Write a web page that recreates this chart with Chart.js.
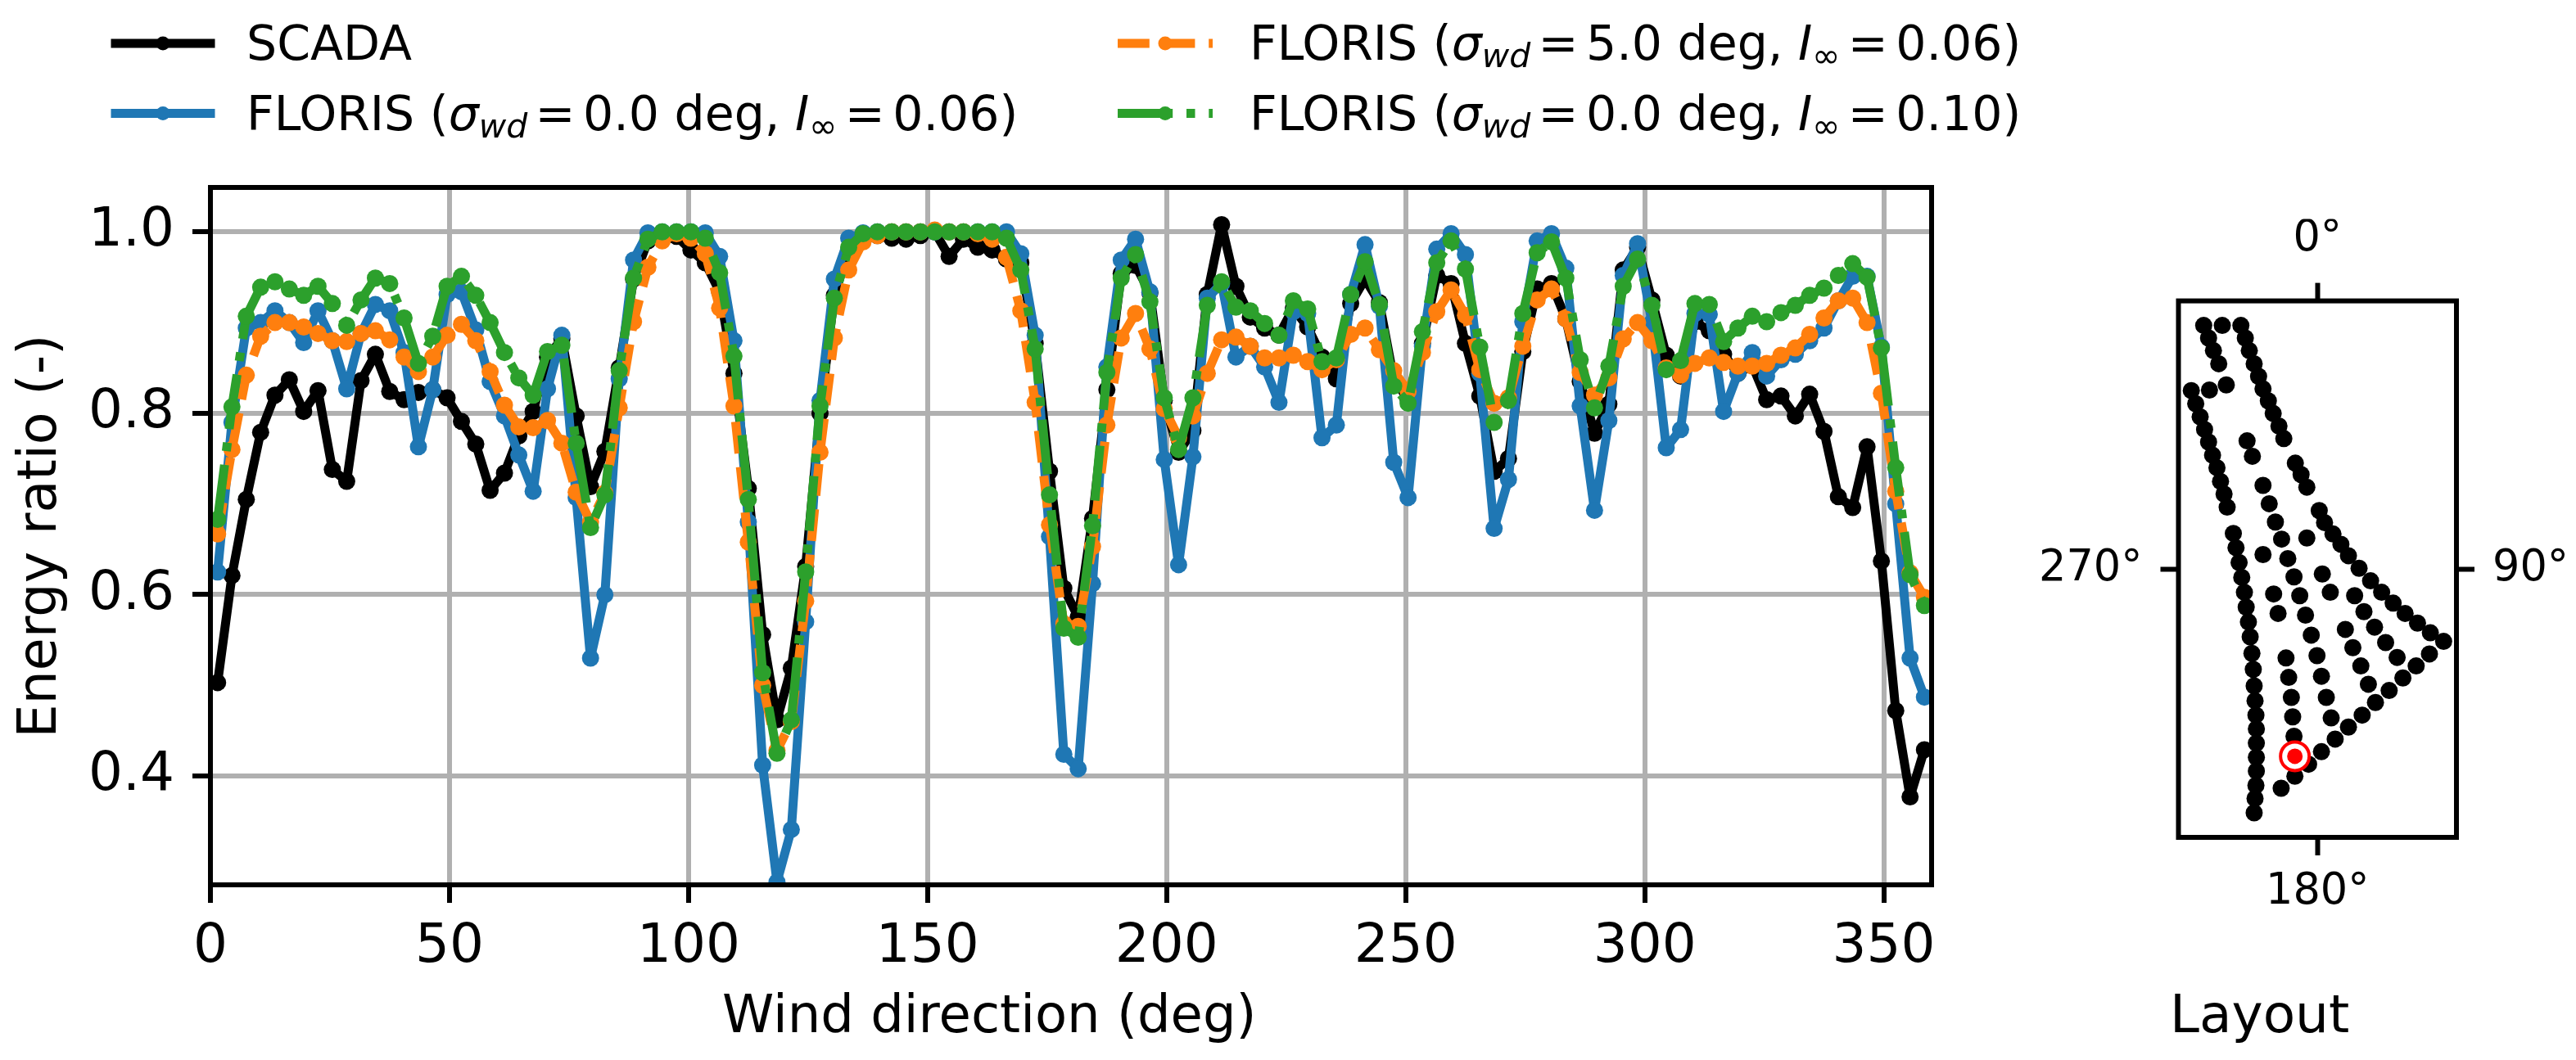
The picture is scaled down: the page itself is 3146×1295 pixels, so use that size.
<!DOCTYPE html>
<html>
<head>
<meta charset="utf-8">
<script src="https://cdn.jsdelivr.net/npm/chart.js@4"></script>
<style>
  html, body { margin: 0; padding: 0; background: #fff; }
  body { position: relative; width: 3146px; height: 1295px; overflow: hidden; font-family: "DejaVu Sans", sans-serif; color: #000; }
  canvas { position: absolute; top: 0; }
  #energyChart { left: 0; }
  #layoutChart { left: 2400px; }
  .txt { position: absolute; white-space: nowrap; line-height: 1; }
  .axis-title { font-size: 64.5px; top: 1206.5px; }
  .legend-text { font-size: 58.5px; }
  .legend-text sub { font-size: 70%; vertical-align: -0.22em; line-height: 0; }
  .legend-text .eq { margin: 0 0.16em; }
</style>
</head>
<body>
<canvas id="energyChart" width="2480" height="1295"></canvas>
<canvas id="layoutChart" width="746" height="1295"></canvas>

<div class="txt legend-text" style="left:301px; top:24px">SCADA</div>
<div class="txt legend-text" style="left:301px; top:110px">FLORIS (<i>σ<sub>wd</sub></i><span class="eq">=</span>0.0 deg, <i>I</i><sub>∞</sub><span class="eq">=</span>0.06)</div>
<div class="txt legend-text" style="left:1526px; top:24px">FLORIS (<i>σ<sub>wd</sub></i><span class="eq">=</span>5.0 deg, <i>I</i><sub>∞</sub><span class="eq">=</span>0.06)</div>
<div class="txt legend-text" style="left:1526px; top:110px">FLORIS (<i>σ<sub>wd</sub></i><span class="eq">=</span>0.0 deg, <i>I</i><sub>∞</sub><span class="eq">=</span>0.10)</div>
<div class="txt axis-title" style="left:882px; font-size:64px">Wind direction (deg)</div>
<div class="txt axis-title" style="left:2650px">Layout</div>

<script>
// Wind direction bin centres (deg)
const windDirection = [
    1.5, 4.5, 7.5, 10.5, 13.5, 16.5, 19.5, 22.5, 25.5, 28.5,
    31.5, 34.5, 37.5, 40.5, 43.5, 46.5, 49.5, 52.5, 55.5, 58.5,
    61.5, 64.5, 67.5, 70.5, 73.5, 76.5, 79.5, 82.5, 85.5, 88.5,
    91.5, 94.5, 97.5, 100.5, 103.5, 106.5, 109.5, 112.5, 115.5, 118.5,
    121.5, 124.5, 127.5, 130.5, 133.5, 136.5, 139.5, 142.5, 145.5, 148.5,
    151.5, 154.5, 157.5, 160.5, 163.5, 166.5, 169.5, 172.5, 175.5, 178.5,
    181.5, 184.5, 187.5, 190.5, 193.5, 196.5, 199.5, 202.5, 205.5, 208.5,
    211.5, 214.5, 217.5, 220.5, 223.5, 226.5, 229.5, 232.5, 235.5, 238.5,
    241.5, 244.5, 247.5, 250.5, 253.5, 256.5, 259.5, 262.5, 265.5, 268.5,
    271.5, 274.5, 277.5, 280.5, 283.5, 286.5, 289.5, 292.5, 295.5, 298.5,
    301.5, 304.5, 307.5, 310.5, 313.5, 316.5, 319.5, 322.5, 325.5, 328.5,
    331.5, 334.5, 337.5, 340.5, 343.5, 346.5, 349.5, 352.5, 355.5, 358.5
];

const scadaRatio = [
    .503, .621, .705, .779, .82, .837, .802, .825, .738, .725,
    .836, .865, .824, .815, .823, .826, .817, .791, .766, .715,
    .734, .775, .802, .862, .882, .797, .719, .758, .85, .948,
    .99, .993, .995, .98, .966, .934, .844, .717, .556, .462,
    .519, .631, .80, .93, .98, .995, .996, .993, .992, .996,
    1.0, .973, .992, .983, .98, .97, .966, .877, .736, .607,
    .575, .684, .826, .954, .963, .933, .814, .757, .781, .931,
    1.008, .94, .906, .894, .886, .916, .895, .862, .838, .921,
    .948, .922, .838, .815, .877, .952, .943, .877, .819, .736,
    .75, .868, .937, .943, .904, .835, .778, .81, .958, .983,
    .925, .864, .841, .901, .891, .865, .844, .853, .815, .819,
    .797, .821, .78, .708, .696, .763, .637, .472, .377, .429
];

const florisBase = [
    .625, .79, .894, .90, .913, .90, .878, .913, .88, .827,
    .888, .92, .913, .867, .763, .826, .931, .934, .892, .835,
    .797, .754, .714, .827, .886, .707, .53, .60, .838, .969,
    .999, 1, 1, 1, .999, .973, .88, .68, .412, .283,
    .341, .57, .814, .948, .993, .999, 1, 1, 1, 1,
    1, 1, 1, 1, 1, 1, .976, .886, .664, .424,
    .408, .612, .851, .969, .992, .934, .749, .633, .752, .927,
    .943, .862, .874, .851, .812, .912, .91, .773, .787, .931,
    .986, .918, .746, .707, .874, .981, .998, .975, .844, .673,
    .727, .901, .99, .998, .96, .808, .693, .792, .952, .987,
    .90, .762, .782, .91, .909, .802, .844, .867, .841, .859,
    .865, .88, .894, .924, .951, .951, .873, .70, .53, .487
];

const florisSigma5 = [
    .667, .76, .842, .885, .90, .90, .895, .888, .88, .879,
    .888, .891, .881, .862, .846, .862, .886, .898, .88, .846,
    .809, .785, .784, .792, .767, .713, .68, .712, .806, .901,
    .961, .99, .998, .993, .976, .916, .808, .658, .50, .428,
    .46, .593, .757, .883, .958, .989, .996, 1, 1, 1,
    1.002, 1, 1, .998, .992, .972, .913, .812, .677, .568,
    .565, .653, .787, .883, .91, .871, .805, .773, .797, .844,
    .881, .884, .874, .861, .861, .864, .857, .848, .859, .887,
    .894, .87, .847, .824, .867, .912, .936, .908, .848, .811,
    .817, .874, .925, .937, .904, .845, .82, .839, .882, .90,
    .88, .85, .842, .855, .861, .856, .852, .852, .855, .864,
    .872, .887, .905, .924, .927, .90, .822, .714, .624, .597
];

const florisTi10 = [
    .683, .807, .907, .939, .945, .937, .93, .94, .921, .897,
    .925, .949, .943, .905, .855, .885, .94, .951, .93, .90,
    .867, .839, .82, .868, .875, .767, .674, .71, .847, .949,
    .992, 1, 1, 1, .993, .955, .863, .705, .514, .425,
    .462, .625, .808, .927, .983, .998, 1, 1, 1, 1,
    1, 1, 1, 1, 1, .993, .958, .871, .71, .563,
    .553, .676, .845, .949, .975, .923, .817, .76, .817, .919,
    .945, .917, .913, .899, .886, .924, .915, .857, .861, .931,
    .967, .92, .83, .811, .89, .966, .99, .959, .873, .79,
    .814, .91, .977, .989, .949, .859, .806, .852, .94, .97,
    .919, .848, .858, .921, .92, .879, .894, .907, .901, .911,
    .919, .93, .938, .952, .965, .95, .872, .74, .622, .588
];

const xTickValues = [0, 50, 100, 150, 200, 250, 300, 350];
const yTickValues = [0.4, 0.6, 0.8, 1.0];

// Turbine positions in its own picture units (y grows downward)
const turbineX = [
    725, 736, 747, 759, 767, 809, 819, 828, 839, 849, 859, 871, 882, 895, 906,
    776, 738, 697, 707, 717, 727, 736, 745, 755, 763, 771, 778,
    792, 798, 805, 811, 817, 821, 826, 830, 834, 837, 839, 841, 843, 844, 844, 844, 844, 843, 841, 839,
    823, 835, 859, 873, 887, 901, 915, 929, 942, 955, 968, 981, 991, 1002, 1013,
    932, 945, 958, 986, 998, 1017, 1035, 1052, 1076, 1102, 1127, 1153, 1180, 1208, 1237, 1267,
    958, 859, 993, 1011, 883, 893, 1066, 1087, 1111, 1136, 1162, 1045, 1062, 1080, 1097,
    1235, 1205, 1175, 1144, 1113, 1083, 1052, 1022, 991, 962, 931, 900,
    911, 917, 923, 926, 929
];
const turbineY = [
    283, 305, 327, 350, 283, 283, 305, 327, 350, 372, 394, 415, 437, 459, 481,
    387, 396, 397, 420, 443, 465, 487, 510, 532, 556, 578, 601,
    647, 672, 698, 724, 750, 776, 802, 828, 857, 885, 914, 940, 965, 989, 1014, 1039, 1063, 1088, 1111, 1136,
    485, 512, 563, 595, 627, 657, 691, 723, 756, 790, 825, 861, 897, 934, 970,
    524, 544, 566, 607, 628, 648, 666, 686, 708, 730, 750, 769, 787, 804, 821, 836,
    655, 684, 718, 750, 753, 787, 756, 784, 811, 838, 864, 815, 847, 879, 911,
    858, 879, 900, 922, 943, 965, 986, 1007, 1029, 1051, 1072, 1093,
    865, 899, 934, 968, 1002
];
const selectedX = [931];
const selectedY = [1037];
const layoutBoundsX = [668, 1296];
const layoutBoundsY = [240, 1179];
const compassLabels = ['0°', '90°', '180°', '270°'];

const LINE_W = 11;
const SPINE_W = 6;
const TICK_LEN = 22;
const dashedStyle = [38.8, 16.8];
const dashDotStyle = [67.2, 16.8, 10.5, 16.8];

function toPoints(values) {
    return windDirection.map((x, i) => ({ x: x, y: values[i] }));
}

function lineSet(label, values, color, dash, order) {
    return {
        label: label,
        data: toPoints(values),
        borderColor: color,
        backgroundColor: color,
        borderWidth: LINE_W,
        borderDash: dash,
        borderJoinStyle: 'round',
        pointRadius: 10.5,
        pointHoverRadius: 10.5,
        pointBorderWidth: 0,
        order: order
    };
}

// Box around the axes, on top of the lines
const spinesPlugin = {
    id: 'spines',
    afterDatasetsDraw(chart) {
        const a = chart.chartArea;
        const ctx = chart.ctx;
        ctx.save();
        ctx.strokeStyle = '#000';
        ctx.lineWidth = SPINE_W;
        ctx.lineJoin = 'miter';
        ctx.strokeRect(a.left, a.top, a.right - a.left, a.bottom - a.top);
        ctx.restore();
    }
};

// Line samples for the html legend
const legendHandles = {
    id: 'legendHandles',
    afterDraw(chart) {
        const ctx = chart.ctx;
        const rows = [
            { x0: 141, x1: 257, y: 53, ds: 0, cap: 'square' },
            { x0: 141, x1: 257, y: 138.5, ds: 1, cap: 'square' },
            { x0: 1365, x1: 1481, y: 53, ds: 2, cap: 'butt' },
            { x0: 1365, x1: 1481, y: 138.5, ds: 3, cap: 'butt' }
        ];
        rows.forEach(r => {
            const ds = chart.data.datasets[r.ds];
            ctx.save();
            ctx.strokeStyle = ds.borderColor;
            ctx.fillStyle = ds.borderColor;
            ctx.lineWidth = LINE_W;
            ctx.lineCap = r.cap;
            ctx.setLineDash(ds.borderDash);
            ctx.beginPath();
            ctx.moveTo(r.x0, r.y);
            ctx.lineTo(r.x1, r.y);
            ctx.stroke();
            ctx.beginPath();
            ctx.arc((r.x0 + r.x1) / 2, r.y, 8.5, 0, Math.PI * 2);
            ctx.fill();
            ctx.restore();
        });
    }
};

function plotEnergy() {
    const ctx = document.getElementById('energyChart').getContext('2d');
    new Chart(ctx, {
        type: 'line',
        data: {
            datasets: [
                lineSet('SCADA', scadaRatio, '#000000', [], 4),
                lineSet('FLORIS (sigma_wd = 0.0 deg, I_inf = 0.06)', florisBase, '#1f77b4', [], 3),
                lineSet('FLORIS (sigma_wd = 5.0 deg, I_inf = 0.06)', florisSigma5, '#ff7f0e', dashedStyle, 2),
                lineSet('FLORIS (sigma_wd = 0.0 deg, I_inf = 0.10)', florisTi10, '#2ca02c', dashDotStyle, 1)
            ]
        },
        options: {
            responsive: false,
            animation: false,
            devicePixelRatio: 1,
            layout: { padding: { left: 0, right: 121, top: 229, bottom: 114 } },
            plugins: { legend: { display: false }, tooltip: { enabled: false } },
            scales: {
                x: {
                    type: 'linear',
                    min: 0,
                    max: 360,
                    afterFit: s => { s.height = 100; },
                    afterBuildTicks: s => { s.ticks = xTickValues.map(v => ({ value: v })); },
                    grid: { color: '#b0b0b0', lineWidth: 6, tickColor: '#000', tickWidth: 6, tickLength: TICK_LEN },
                    border: { display: false },
                    ticks: { color: '#000', font: { family: 'DejaVu Sans', size: 66 }, padding: 15, maxRotation: 0, autoSkip: false }
                },
                y: {
                    type: 'linear',
                    min: 0.28,
                    max: 1.049,
                    afterFit: s => { s.width = 257; },
                    afterBuildTicks: s => { s.ticks = yTickValues.map(v => ({ value: v })); },
                    grid: { color: '#b0b0b0', lineWidth: 6, tickColor: '#000', tickWidth: 6, tickLength: TICK_LEN },
                    border: { display: false },
                    title: {
                        display: true,
                        text: 'Energy ratio (-)',
                        color: '#000',
                        font: { family: 'DejaVu Sans', size: 65 },
                        padding: { top: 12, bottom: 0 }
                    },
                    ticks: {
                        color: '#000',
                        font: { family: 'DejaVu Sans', size: 66 },
                        padding: 22,
                        autoSkip: false,
                        callback: v => v.toFixed(1)
                    }
                }
            }
        },
        plugins: [spinesPlugin, legendHandles]
    });
}

function compassAxis(position, bounds, tickValue, label, padding, sizeKey, size, reverse) {
    return {
        type: 'linear',
        position: position,
        min: bounds[0],
        max: bounds[1],
        reverse: reverse,
        afterFit: s => { s[sizeKey] = size; },
        afterBuildTicks: s => { s.ticks = [{ value: tickValue }]; },
        grid: { drawOnChartArea: false, tickColor: '#000', tickWidth: 6, tickLength: TICK_LEN },
        border: { display: false },
        ticks: {
            color: '#000',
            font: { family: 'DejaVu Sans', size: 52.5 },
            padding: padding,
            maxRotation: 0,
            autoSkip: false,
            callback: () => label
        }
    };
}

function plotLayout() {
    const ctx = document.getElementById('layoutChart').getContext('2d');
    const midX = (layoutBoundsX[0] + layoutBoundsX[1]) / 2;
    const midY = (layoutBoundsY[0] + layoutBoundsY[1]) / 2;
    new Chart(ctx, {
        type: 'scatter',
        data: {
            datasets: [
                {
                    label: 'Turbines',
                    data: turbineX.map((x, i) => ({ x: x, y: turbineY[i] })),
                    backgroundColor: '#000',
                    pointRadius: 10.5,
                    pointBorderWidth: 0,
                    xAxisID: 'x',
                    yAxisID: 'y',
                    order: 3
                },
                {
                    label: 'Selected ring',
                    data: selectedX.map((x, i) => ({ x: x, y: selectedY[i] })),
                    backgroundColor: '#fff',
                    borderColor: '#ff0000',
                    pointRadius: 17.5,
                    pointBorderWidth: 4,
                    xAxisID: 'x',
                    yAxisID: 'y',
                    order: 2
                },
                {
                    label: 'Selected turbine',
                    data: selectedX.map((x, i) => ({ x: x, y: selectedY[i] })),
                    backgroundColor: '#ff0000',
                    pointRadius: 9.5,
                    pointBorderWidth: 0,
                    xAxisID: 'x',
                    yAxisID: 'y',
                    order: 1
                }
            ]
        },
        options: {
            responsive: false,
            animation: false,
            devicePixelRatio: 1,
            layout: { padding: { left: 60.5, right: 6, top: 267.6, bottom: 172 } },
            plugins: { legend: { display: false }, tooltip: { enabled: false } },
            scales: {
                x: compassAxis('bottom', layoutBoundsX, midX, compassLabels[2], 14, 'height', 100, false),
                xTop: compassAxis('top', layoutBoundsX, midX, compassLabels[0], 22, 'height', 100, false),
                y: compassAxis('left', layoutBoundsY, midY, compassLabels[3], 22, 'width', 200, true),
                yRight: compassAxis('right', layoutBoundsY, midY, compassLabels[1], 22, 'width', 140, true)
            }
        },
        plugins: [spinesPlugin]
    });
}

plotEnergy();
plotLayout();
</script>
</body>
</html>
